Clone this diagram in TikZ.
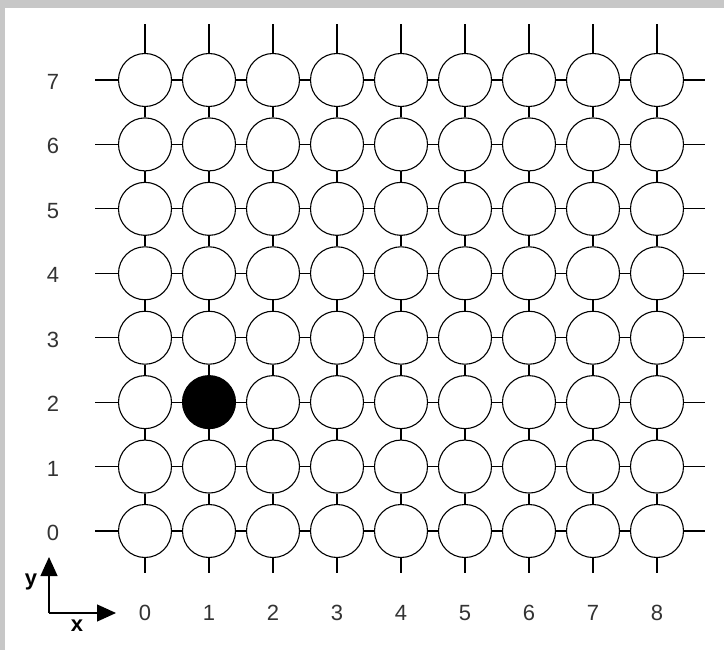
\documentclass[tikz,border=0pt]{standalone}
\usepackage{fontspec}
\setmainfont{Liberation Sans}
\usetikzlibrary{arrows.meta}
\begin{document}
\begin{tikzpicture}[x=1pt,y=-1pt,
  site/.style={circle,draw=black,line width=1.1pt,minimum size=53pt,inner sep=0pt,fill=white},
  occupied/.style={site,fill=black},
  link/.style={draw=black,line width=1.1pt},
  lbl/.style={font=\fontsize{22}{22}\selectfont,text=black!80,inner sep=0pt},
  axislbl/.style={font=\bfseries\fontsize{22}{22}\selectfont,inner sep=0pt},
  axisarrow/.style={draw=black,line width=1.2pt,-{Triangle[length=19pt,width=17pt]}}]
\useasboundingbox (0,0) rectangle (724,650);
\fill[black!22] (0,0) rectangle (724,650);
\fill[white] (5,8) rectangle (724,650);
% sites
\foreach \i in {0,...,8}{
  \foreach \j in {0,...,7}{
    \pgfmathsetmacro{\cx}{145+64*\i}
    \pgfmathsetmacro{\cy}{531-64.43*\j}
    \ifnum\i=1 \ifnum\j=2
      \node[occupied] (s-\i-\j) at (\cx,\cy) {};
    \else
      \node[site] (s-\i-\j) at (\cx,\cy) {};
    \fi\else
      \node[site] (s-\i-\j) at (\cx,\cy) {};
    \fi
  }
}
% horizontal links
\foreach \i [evaluate=\i as \n using int(\i+1)] in {0,...,7}{
  \foreach \j in {0,...,7}{
    \draw[link] (s-\i-\j.east) -- (s-\n-\j.west);
  }
}
% vertical links
\foreach \i in {0,...,8}{
  \foreach \j [evaluate=\j as \n using int(\j+1)] in {0,...,6}{
    \draw[link] (s-\i-\j.north) -- (s-\i-\n.south);
  }
}
% outer stubs
\foreach \i in {0,...,8}{
  \pgfmathsetmacro{\cx}{145+64*\i}
  \coordinate (top-\i) at (\cx,24);
  \coordinate (bot-\i) at (\cx,573);
  \draw[link] (s-\i-7.north) -- (top-\i);
  \draw[link] (s-\i-0.south) -- (bot-\i);
  \node[lbl] (xl-\i) at (\cx,613) {\i};
}
\foreach \j in {0,...,7}{
  \pgfmathsetmacro{\cy}{531-64.43*\j}
  \coordinate (lft-\j) at (95,\cy);
  \coordinate (rgt-\j) at (705,\cy);
  \draw[link] (s-0-\j.west) -- (lft-\j);
  \draw[link] (s-8-\j.east) -- (rgt-\j);
  \node[lbl] (yl-\j) at (53,\cy+2) {\j};
}
% axes
\coordinate (origin) at (49,613);
\coordinate (yend) at (49,557);
\coordinate (xend) at (116,613);
\draw[axisarrow] (origin) -- (yend);
\draw[axisarrow] (origin) -- (xend);
\node[axislbl] (ylab) at (31,582) {y};
\node[axislbl] (xlab) at (77,626) {x};
\end{tikzpicture}
\end{document}
